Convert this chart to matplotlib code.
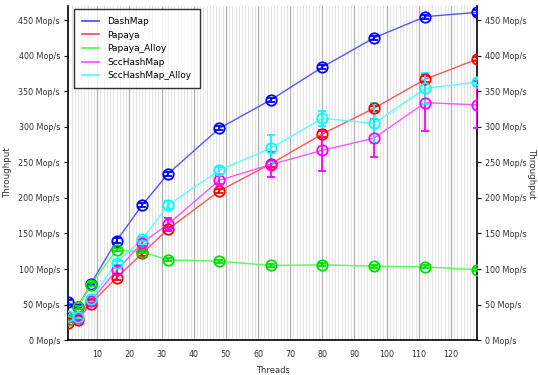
import matplotlib
matplotlib.use("Agg")
import matplotlib.pyplot as plt
from matplotlib.ticker import MultipleLocator, FuncFormatter

threads = [1, 4, 8, 16, 24, 32, 48, 64, 80, 96, 112, 128]

dashmap = [53, 47, 79, 140, 190, 234, 298, 338, 384, 425, 455, 461]
dashmap_err = [3, 2, 2, 3, 3, 3, 3, 3, 3, 3, 3, 3]

papaya = [24, 29, 51, 88, 122, 156, 210, 248, 290, 326, 367, 395]
papaya_err = [3, 2, 3, 3, 3, 3, 3, 4, 4, 4, 4, 3]

papaya_alloy = [28, 46, 78, 127, 124, 113, 111, 105, 106, 104, 103, 99]
papaya_alloy_err = [2, 2, 2, 2, 2, 2, 2, 2, 2, 2, 2, 2]

scc = [33, 31, 55, 98, 137, 163, 225, 247, 267, 284, 334, 331]
scc_err = [3, 3, 3, 5, 4, 9, 6, 18, 29, 27, 40, 33]

scc_alloy = [34, 33, 58, 109, 142, 190, 239, 270, 312, 305, 354, 363]
scc_alloy_err = [2, 2, 3, 3, 3, 6, 5, 19, 11, 28, 22, 4]

series = [
    ("DashMap", dashmap, dashmap_err, "#5555ff", "#0000ff"),
    ("Papaya", papaya, papaya_err, "#ff5555", "#ff0000"),
    ("Papaya_Alloy", papaya_alloy, papaya_alloy_err, "#55ff55", "#00e000"),
    ("SccHashMap", scc, scc_err, "#ff55ff", "#ff00ff"),
    ("SccHashMap_Alloy", scc_alloy, scc_alloy_err, "#55ffff", "#00ffff"),
]

TXT = "#333333"

fig = plt.figure(figsize=(5.38, 3.75), dpi=100)
ax = fig.add_axes([0.127, 0.093, 0.759, 0.891])

ax.set_xlim(1, 128)
ax.set_ylim(0, 470)

# vertical grid: thin line at every thread count, darker every 10
ax.xaxis.set_major_locator(MultipleLocator(10))
ax.xaxis.set_minor_locator(MultipleLocator(1))
ax.grid(which="minor", axis="x", color="#e0e0e0", lw=0.6)
ax.grid(which="major", axis="x", color="#b0b0b0", lw=0.9)
ax.set_axisbelow(True)

handles = []
for name, vals, errs, lc, mc in series:
    ax.plot(threads, vals, color=lc, lw=1.0, zorder=3)
    ax.errorbar(threads, vals, yerr=errs, fmt="none", ecolor=mc,
                elinewidth=1.3, capsize=3, capthick=1.3, zorder=4)
    ax.plot(threads, vals, linestyle="none", marker="o", ms=7.5,
            mfc="none", mec=mc, mew=1.3, zorder=5)
    h, = ax.plot([], [], color=lc, lw=1.3, label=name)
    handles.append(h)

fmt = FuncFormatter(lambda v, p: f"{int(v)} Mop/s")
ax.yaxis.set_major_locator(MultipleLocator(50))
ax.yaxis.set_major_formatter(fmt)
ax.tick_params(axis="y", which="both", direction="out", length=3,
               labelsize=5.8, colors=TXT, pad=3, left=True, right=True,
               labelleft=True, labelright=True)
ax.tick_params(axis="y", which="both", color="black")
ax.tick_params(axis="x", which="both", length=0, labelsize=5.8,
               labelcolor=TXT, pad=7)

for s in ("left", "right", "bottom"):
    ax.spines[s].set_color("black")
    ax.spines[s].set_linewidth(1.2)
ax.spines["top"].set_visible(False)

ax.set_xlabel("Threads", fontsize=6, color=TXT, labelpad=5)
ax.set_ylabel("Throughput", fontsize=6.3, color=TXT, labelpad=0)
ax.yaxis.set_label_coords(-0.137, 0.5)
fig.text(0.988, 0.5387, "Throughput", rotation=-90, fontsize=6.3,
         color=TXT, ha="center", va="center")

leg = ax.legend(handles=handles, loc="upper left",
                bbox_to_anchor=(0.014, 0.991), borderaxespad=0,
                fontsize=6.5, frameon=True, fancybox=False,
                edgecolor="black", handlelength=1.9, handletextpad=0.9,
                borderpad=0.9, labelspacing=0.5)
leg.get_frame().set_linewidth(1.0)
leg.set_zorder(10)

fig.savefig("out.png", dpi=100)
